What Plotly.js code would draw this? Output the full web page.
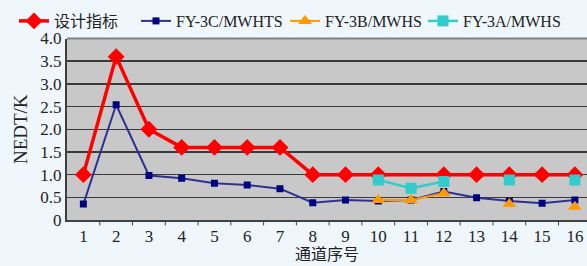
<!DOCTYPE html>
<html><head><meta charset="utf-8">
<script src="https://cdn.plot.ly/plotly-3.0.1.min.js"></script>
<style>html,body{margin:0;padding:0;background:#EFF7FD;}</style>
</head><body><div id="chart" style="width:587px;height:266px;"></div>
<script>
var channels = [1,2,3,4,5,6,7,8,9,10,11,12,13,14,15,16];
var tickLabels = ['1','2','3','4','5','6','7','8','9','10','11','12','13','14','15','16'];
var designSpec = [1.0,3.6,2.0,1.6,1.6,1.6,1.6,1.0,1.0,1.0,null,1.0,1.0,1.0,1.0,1.0];
var fy3c = [0.35,2.54,0.98,0.92,0.81,0.77,0.69,0.38,0.44,0.42,0.44,0.63,0.49,0.42,0.37,0.44];
var fy3b = [null,null,null,null,null,null,null,null,null,0.44,0.44,0.59,null,0.35,null,0.29];
var fy3a = [null,null,null,null,null,null,null,null,null,0.88,0.70,0.85,null,0.88,null,0.88];
var names = ['设计指标','FY-3C/MWHTS','FY-3B/MWHS','FY-3A/MWHS'];
var yTickVals = [0,0.5,1,1.5,2,2.5,3,3.5,4];
var yTickText = ['0','0.5','1.0','1.5','2.0','2.5','3.0','3.5','4.0'];

var fontFam = '"Liberation Serif", "Noto Sans CJK SC", serif';
var traces = [
  {x: channels, y: designSpec, name: names[0], mode: 'lines+markers', connectgaps: true, legend: 'legend',
   line: {color: '#FF0000', width: 3.5}, marker: {symbol: 'diamond', size: 13, color: '#FF0000'}},
  {x: channels, y: fy3c, name: names[1], mode: 'lines+markers', legend: 'legend2',
   line: {color: '#2E3192', width: 2}, marker: {symbol: 'square', size: 7, color: '#000080'}},
  {x: channels, y: fy3b, name: names[2], mode: 'lines+markers', connectgaps: false, legend: 'legend3',
   line: {color: '#FF9900', width: 2}, marker: {symbol: 'triangle-up', size: 12, color: '#FF9900'}},
  {x: channels, y: fy3a, name: names[3], mode: 'lines+markers', connectgaps: false, legend: 'legend4',
   line: {color: '#33CCCC', width: 2.5}, marker: {symbol: 'square', size: 11, color: '#33CCCC'}}
];
function mkLegend(px) {
  return {orientation: 'h', xref: 'container', yref: 'container', x: px / 587, xanchor: 'left',
          y: 1 - 21 / 266, yanchor: 'middle', font: {family: fontFam, size: 16, color: '#222'},
          bgcolor: 'rgba(0,0,0,0)', borderwidth: 0, itemwidth: 30};
}
var layout = {
  width: 587, height: 266,
  margin: {l: 67, r: 0, t: 37.5, b: 46},
  paper_bgcolor: '#EFF7FD', plot_bgcolor: '#C8C8C8',
  font: {family: fontFam, size: 17, color: '#222222'},
  showlegend: true,
  legend: mkLegend(14), legend2: mkLegend(136), legend3: mkLegend(285), legend4: mkLegend(423),
  xaxis: {range: [0.5, 16.37], tickmode: 'array', tickvals: channels, ticktext: tickLabels,
          showgrid: false, zeroline: false, showline: true, linecolor: '#404040', linewidth: 2,
          ticks: '', fixedrange: true, tickfont: {size: 17},
          title: {text: '通道序号', font: {family: fontFam, size: 16}, standoff: 2}},
  yaxis: {range: [0, 4.0], tickmode: 'array', tickvals: yTickVals, ticktext: yTickText,
          showgrid: true, gridcolor: '#3A3A3A', gridwidth: 1.5, zeroline: false,
          showline: true, linecolor: '#404040', linewidth: 2, ticks: '', tickfont: {size: 17},
          title: {text: 'NEDT/K', font: {family: fontFam, size: 19}, standoff: 8}},
  shapes: []
};
var bounds = [];
for (var i = 0; i < channels.length - 1; i++) bounds.push(channels[i] + 0.5);
bounds.forEach(function(b){
  layout.shapes.push({type:'line', xref:'x', yref:'paper', x0:b, x1:b, y0:0, y1:-0.03,
                      line:{color:'#404040', width:1}});
});
layout.shapes.push({type:'line', xref:'paper', yref:'paper', x0:0, x1:1, y0:1, y1:1, line:{color:'#808080', width:2}});
Plotly.newPlot('chart', traces, layout, {displayModeBar: false, staticPlot: true});
</script></body></html>
